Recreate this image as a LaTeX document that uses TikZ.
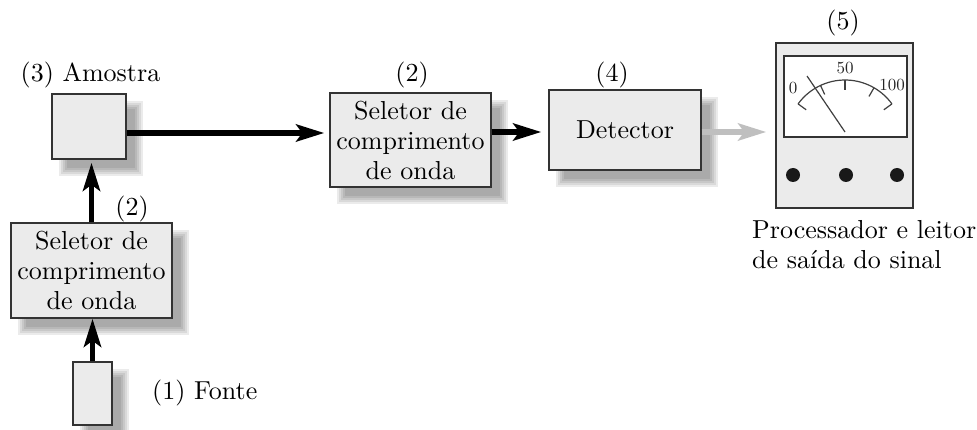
\documentclass[tikz,border=0pt]{standalone}
\usepackage{fontspec}
\setmainfont{lmroman10-regular.otf}
\usetikzlibrary{arrows.meta}
\pgfdeclarelayer{background}
\pgfsetlayers{background,main}
\newcommand\softshadow[1]{%
  \foreach \k in {-4,-2,0,2,4}
    \fill[black, opacity=0.08] ([shift={(12+\k,12+\k)}]#1.north west) rectangle ([shift={(12-\k,12-\k)}]#1.south east);}
\begin{document}
\begin{tikzpicture}[x=1pt,y=-1pt,
  box/.style={draw=black!80, line width=1.4pt, fill=black!8, inner sep=0pt, align=center,
    font=\fontsize{26}{30}\selectfont},
  arr/.style={line width=5.5pt, -{Stealth[length=28pt,width=17pt,inset=6pt]}},
  grayarr/.style={line width=5.5pt, draw=black!25, -{Stealth[length=28pt,width=17pt,inset=6pt]}},
  lbl/.style={font=\fontsize{26}{30}\selectfont, inner sep=0pt},
  small/.style={font=\fontsize{17}{20}\selectfont, inner sep=0pt, text=black!85}]
\useasboundingbox (0,0) rectangle (977,430);

% boxes
\node[box, minimum width=74pt, minimum height=65pt] (amostra) at (89,126.5) {};
\node[box, minimum width=161pt, minimum height=95pt] (sel1) at (91.5,270.5) {Seletor de\\comprimento\\de onda};
\node[box, minimum width=39pt, minimum height=63pt] (fonte) at (92.5,393.5) {};
\node[box, minimum width=161pt, minimum height=94pt] (sel2) at (410.5,140) {Seletor de\\comprimento\\de onda};
\node[box, minimum width=152pt, minimum height=80pt] (det) at (625,130) {Detector};

\begin{pgfonlayer}{background}
  \softshadow{amostra}
  \softshadow{sel1}
  \softshadow{fonte}
  \softshadow{sel2}
  \softshadow{det}
\end{pgfonlayer}

% meter
\node[draw=black!80, line width=1.4pt, fill=black!8, minimum width=137pt, minimum height=165pt, inner sep=0pt] (meter) at (844.5,125.5) {};
\node[draw=black!80, line width=1.4pt, fill=white, minimum width=123pt, minimum height=81pt, inner sep=0pt] (win) at (845.5,96.5) {};
\fill[black!90] (793,175) circle[radius=7];
\fill[black!90] (846,175) circle[radius=7];
\fill[black!90] (897,175) circle[radius=7];
\begin{scope}[shift={(845,138)}, y=1pt, line width=1.2pt, draw=black!75]
  \draw (144:58) arc[start angle=144, end angle=36, radius=58];
  \foreach \a in {144,115,90,60,36} \draw (\a:58) -- (\a:48);
  \draw (0,6) -- (-38,62);
  \node[small] (m0) at (-52,50) {0};
  \node[small] (m50) at (0,70) {50};
  \node[small] (m100) at (47,53) {100};
\end{scope}

% labels
\node[lbl] (l3) at (90.5,75) {(3) Amostra};
\node[lbl] (l2a) at (132,209) {(2)};
\node[lbl] (l2b) at (412,75) {(2)};
\node[lbl] (l4) at (612,75) {(4)};
\node[lbl] (l5) at (843,23) {(5)};
\node[lbl, anchor=west] (l1) at (152,393) {(1) Fonte};
\node[lbl, anchor=north west, align=left] (lproc) at (752,220) {Processador e leitor\\de saída do sinal};

% arrows
\draw[arr] (fonte.north) -- (fonte.north |- sel1.south);
\draw[arr, shorten >=3pt] (sel1.north) -- (sel1.north |- amostra.south);
\draw[arr, shorten >=5pt] ([yshift=-6.5pt]amostra.east) -- ([yshift=-6.5pt]amostra.east -| sel2.west);
\draw[arr, shorten >=7pt] ([yshift=-2pt]det.west -| sel2.east) -- ([yshift=-2pt]det.west);
\draw[grayarr, shorten >=9pt] ([yshift=-2pt]det.east) -- ([yshift=-2pt]det.east -| meter.west);
\end{tikzpicture}
\end{document}
